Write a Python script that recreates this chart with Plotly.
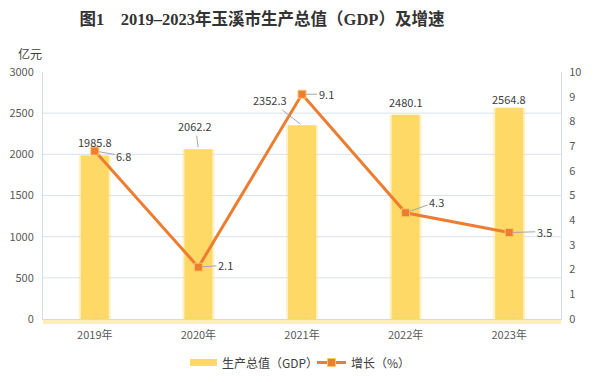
import plotly.graph_objects as go

years = ["2019年", "2020年", "2021年", "2022年", "2023年"]
gdp = [1985.8, 2062.2, 2352.3, 2480.1, 2564.8]
growth = [6.8, 2.1, 9.1, 4.3, 3.5]
left_ticks = [0, 500, 1000, 1500, 2000, 2500, 3000]
right_ticks = list(range(0, 11))

BAR = "#FFD966"
LINE = "#ED7D31"
TXT = "#404040"
FONT = "Noto Sans CJK SC, Liberation Sans, sans-serif"

# page body has an 8px margin; compensate so the picture lines up with the window
OFF = 8
W, H = 595 - OFF, 382 - OFF
# plot area in window coordinates: x 43..561, y 72..319
ml = 43 - OFF
mt = 72 - OFF
mr = W - (561 - OFF)
mb = H - (319 - OFF)
pw, ph = W - ml - mr, H - mt - mb


def px(x):
    return (x - OFF - ml) / pw


def py(y):
    return (H - mb - (y - OFF)) / ph


fig = go.Figure()
fig.add_trace(go.Bar(x=years, y=gdp, width=0.31, marker=dict(color="rgba(255,217,102,0.35)", line_width=0),
                     hoverinfo="skip", showlegend=False))
fig.add_trace(go.Bar(x=years, y=gdp, width=0.27, marker=dict(color=BAR, line_width=0),
                     name="生产总值（GDP）", showlegend=False))
fig.add_trace(go.Scatter(x=years, y=growth, yaxis="y2", mode="lines+markers",
                         line=dict(color=LINE, width=3),
                         marker=dict(symbol="square", size=8, color=LINE, line=dict(color="#FFC864", width=1)),
                         name="增长（%）", showlegend=False))

annotations = []
bar_off = [(0, -14, False), (-3, -23, True), (-32, -25, True), (0, -13, False), (0, -9, False)]
for cat, v, (dx, dy, arr) in zip(years, gdp, bar_off):
    if arr:
        annotations.append(dict(x=cat, y=v, xref="x", yref="y", text=f"{v:.1f}", showarrow=True,
                                ax=dx, ay=dy, arrowhead=0, arrowwidth=1, arrowcolor="#A6A6A6",
                                standoff=2, font=dict(size=11, color=TXT, family=FONT)))
    else:
        annotations.append(dict(x=cat, y=v, xref="x", yref="y", text=f"{v:.1f}", showarrow=False,
                                yshift=-dy, font=dict(size=11, color=TXT, family=FONT)))
line_off = [(29, 5), (27, -2), (24, 0), (31, -11), (35, -1)]
for cat, v, (dx, dy) in zip(years, growth, line_off):
    annotations.append(dict(x=cat, y=v, xref="x", yref="y2", text=f"{v:.1f}", showarrow=True,
                            ax=dx, ay=dy, arrowhead=0, arrowwidth=1, arrowcolor="#A6A6A6",
                            standoff=4, font=dict(size=11, color=TXT, family=FONT)))

shapes = []
for t in left_ticks[1:-1]:
    shapes.append(dict(type="line", xref="paper", yref="y", x0=0, x1=1, y0=t, y1=t,
                       line=dict(color="#D6E2EF", width=1), layer="below"))
shapes.append(dict(type="line", xref="paper", yref="paper", x0=0, x1=1, y0=-0.012, y1=-0.012,
                   line=dict(color="rgba(255,217,102,0.45)", width=4), layer="below"))

# legend drawn by hand
shapes.append(dict(type="rect", xref="paper", yref="paper", x0=px(190), x1=px(217), y0=py(366), y1=py(359),
                   fillcolor=BAR, line_width=0))
shapes.append(dict(type="line", xref="paper", yref="paper", x0=px(317), x1=px(346), y0=py(362.5), y1=py(362.5),
                   line=dict(color=LINE, width=3)))
shapes.append(dict(type="rect", xref="paper", yref="paper", x0=px(327.5), x1=px(335.5), y0=py(366.5), y1=py(358.5),
                   fillcolor=LINE, line=dict(color="#FFC864", width=1)))
annotations.append(dict(x=px(220), y=py(362.5), xref="paper", yref="paper", xanchor="left", yanchor="middle",
                        text="生产总值（GDP）", showarrow=False, font=dict(size=12, color=TXT, family=FONT)))
annotations.append(dict(x=px(349), y=py(362.5), xref="paper", yref="paper", xanchor="left", yanchor="middle",
                        text="增长（%）", showarrow=False, font=dict(size=12, color=TXT, family=FONT)))
annotations.append(dict(x=px(16), y=py(53), xref="paper", yref="paper", xanchor="left", yanchor="middle",
                        text="亿元", showarrow=False, font=dict(size=12, color=TXT, family=FONT)))

fig.update_layout(
    width=W, height=H,
    margin=dict(l=ml, r=mr, t=mt, b=mb, pad=0, autoexpand=False),
    paper_bgcolor="white", plot_bgcolor="white",
    barmode="overlay", showlegend=False,
    font=dict(family=FONT, size=11, color="#595959"),
    title=dict(text="图1　2019–2023年玉溪市生产总值（GDP）及增速",
               x=(262 - OFF) / W, xanchor="center", y=1 - (19 - OFF) / H, yanchor="middle",
               font=dict(family="Liberation Serif, Noto Sans CJK SC, serif", size=16.5, color="#333333", weight="bold")),
    xaxis=dict(showgrid=False, showline=True, linecolor="#D9D9D9", linewidth=1, ticks="",
               tickfont=dict(size=11, color="#595959"), ticklabelstandoff=6),
    yaxis=dict(range=[0, 3000], tickvals=left_ticks, showgrid=False, zeroline=False,
               showline=True, linecolor="#D2DEEC", linewidth=1, ticks="",
               tickfont=dict(size=11, color="#595959"), ticklabelstandoff=6),
    yaxis2=dict(range=[0, 10], tickvals=right_ticks, overlaying="y", side="right", showgrid=False,
                zeroline=False, showline=True, linecolor="#D2DEEC", linewidth=1, ticks="",
                tickfont=dict(size=11, color="#595959"), ticklabelstandoff=5),
    annotations=annotations, shapes=shapes,
)

fig.write_html("out.html")
